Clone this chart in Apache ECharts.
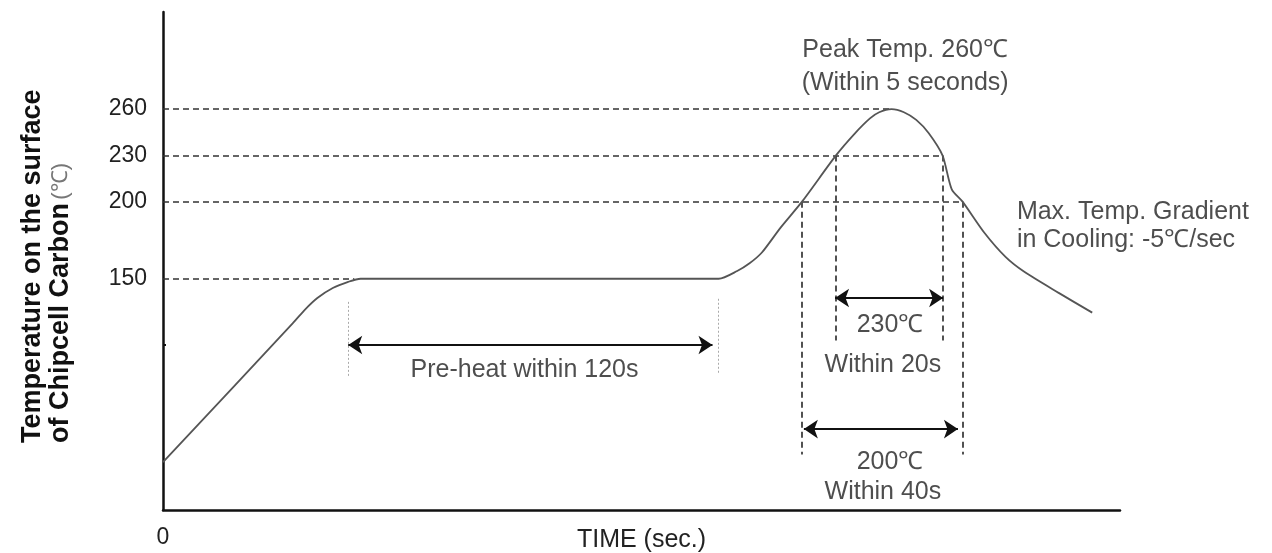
<!DOCTYPE html>
<html>
<head>
<meta charset="utf-8">
<script src="https://cdn.jsdelivr.net/npm/echarts@6/dist/echarts.min.js"></script>
<style>
html,body{margin:0;padding:0;background:#fff;}
#c{width:1272px;height:553px;}
</style>
</head>
<body>
<div id="c"></div>
<script>
// ---- data (time in s-like units, temperature in degC) ----
const profileTime = [0, 42, 46, 50, 55, 60, 64, 180, 186, 190, 194, 200, 207, 218, 224, 229, 232, 236, 240, 244, 248, 252.5, 255.5, 259, 266, 273, 279, 290, 301];
const profileTemp = [31, 121, 130, 137.5, 144, 148, 150, 150, 155, 160, 167, 183, 200, 230, 244, 254, 258, 260, 258, 253, 244.5, 230, 208, 200, 180, 164, 154.5, 141, 128];

const yTickLabels = [150, 200, 230, 260];
const yMinorTick = [107];
const xTickLabels = [0];

// level lines: [temperature, end time]
const levelLines = [[260, 236], [230, 252.5], [200, 259], [150, 62]];
// window boundaries: [time, top temp, bottom temp]
const windowLines = [[207, 200, 36], [259, 200, 36], [218, 230, 110], [252.5, 230, 110]];
// preheat boundaries: [time, top temp, bottom temp]
const preheatLines = [[60, 135, 86], [180, 137, 89]];
// arrows: [start time, end time, temp]
const arrows = [[60, 178, 107], [217.7, 252.7, 137.5], [207.6, 257.5, 52.5]];
// annotation texts: [text, time, temp, align]
const notes = [
  ['Peak Temp. 260\u2103', 240.4, 298, 'center'],
  ['(Within 5 seconds)', 240.4, 277, 'center'],
  ['Max. Temp. Gradient', 276.6, 193.3, 'left'],
  ['in Cooling: -5\u2103/sec', 276.6, 175.1, 'left'],
  ['230\u2103', 235.5, 120, 'center'],
  ['Within 20s', 233.2, 94, 'center'],
  ['200\u2103', 235.5, 31.1, 'center'],
  ['Within 40s', 233.2, 11.7, 'center'],
  ['Pre-heat within 120s', 117.1, 90.8, 'center']
];
const yTitleLine1 = 'Temperature on the surface';
const yTitleLine2 = 'of Chipcell Carbon';
const yTitleUnit = '(\u2103)';
const xTitle = 'TIME (sec.)';

const FONT = '"Liberation Sans", Arial, sans-serif';
const chart = echarts.init(document.getElementById('c'));

const series = [];
series.push({
  type: 'line',
  data: profileTime.map((t, i) => [t, profileTemp[i]]),
  showSymbol: false,
  smooth: 0.25,
  lineStyle: { color: '#555', width: 1.8 },
  z: 5,
  animation: false
});
series.push({
  type: 'lines',
  coordinateSystem: 'cartesian2d',
  data: levelLines.map(l => ({ coords: [[0, l[0]], [l[1], l[0]]] }))
    .concat(windowLines.map(w => ({ coords: [[w[0], w[1]], [w[0], w[2]]] }))),
  lineStyle: { color: '#333', width: 1.7, type: [6, 4], opacity: 1 },
  symbol: ['none', 'none'],
  animation: false,
  z: 3
});
series.push({
  type: 'lines',
  coordinateSystem: 'cartesian2d',
  data: preheatLines.map(p => ({ coords: [[p[0], p[1]], [p[0], p[2]]] })),
  lineStyle: { color: '#aaa', width: 1, type: [2, 2], opacity: 1 },
  symbol: ['none', 'none'],
  animation: false,
  z: 3
});
series.push({
  type: 'lines',
  coordinateSystem: 'cartesian2d',
  data: arrows.map(a => ({ coords: [[a[0], a[2]], [a[1], a[2]]] })),
  lineStyle: { color: '#111', width: 2, opacity: 1 },
  symbol: ['arrow', 'arrow'],
  symbolSize: 14,
  itemStyle: { color: '#111' },
  animation: false,
  z: 4
});
series.push({
  type: 'scatter',
  symbolSize: 0,
  data: notes.map(n => ({
    value: [n[1], n[2]],
    name: n[0],
    label: { align: n[3] }
  })),
  label: {
    show: true,
    position: 'inside',
    formatter: '{b}',
    color: '#222',
    fontSize: 25,
    fontFamily: FONT,
    verticalAlign: 'middle'
  },
  silent: true,
  animation: false,
  z: 6
});

chart.setOption({
  backgroundColor: '#fff',
  animation: false,
  grid: { left: 163, right: 152, top: 12, bottom: 43, containLabel: false, outerBoundsMode: 'none' },
  graphic: [
    {
      type: 'text',
      x: 33, y: 443,
      rotation: Math.PI / 2,
      style: {
        text: yTitleLine1,
        fill: '#111',
        font: 'bold 27px ' + FONT,
        align: 'left',
        verticalAlign: 'middle'
      }
    },
    {
      type: 'text',
      x: 61, y: 443,
      rotation: Math.PI / 2,
      style: {
        text: '{b|' + yTitleLine2 + '} {u|' + yTitleUnit + '}',
        align: 'left',
        verticalAlign: 'middle',
        rich: {
          b: { fill: '#111', fontSize: 27, fontWeight: 'bold', fontFamily: FONT },
          u: { fill: '#777', fontSize: 22, fontWeight: 'normal', fontFamily: FONT }
        }
      }
    }
  ],
  xAxis: {
    type: 'value',
    min: 0,
    max: 310,
    name: xTitle,
    nameLocation: 'middle',
    nameGap: 18,
    nameMoveOverlap: false,
    nameTextStyle: { color: '#222', fontSize: 25, fontFamily: FONT, verticalAlign: 'top' },
    splitLine: { show: false },
    axisTick: { show: false },
    axisLine: { lineStyle: { color: '#111', width: 2.5 } },
    axisLabel: {
      customValues: xTickLabels,
      color: '#222', fontSize: 23, fontFamily: FONT, margin: 16
    }
  },
  yAxis: {
    type: 'value',
    min: 0,
    max: 323,
    splitLine: { show: false },
    axisLine: { lineStyle: { color: '#111', width: 2.5 } },
    axisTick: { show: true, customValues: yMinorTick, inside: true, length: 3, lineStyle: { color: '#111', width: 2 } },
    axisLabel: {
      customValues: yTickLabels,
      color: '#222', fontSize: 23, fontFamily: FONT, margin: 16
    }
  },
  series: series
});
</script>
</body>
</html>
